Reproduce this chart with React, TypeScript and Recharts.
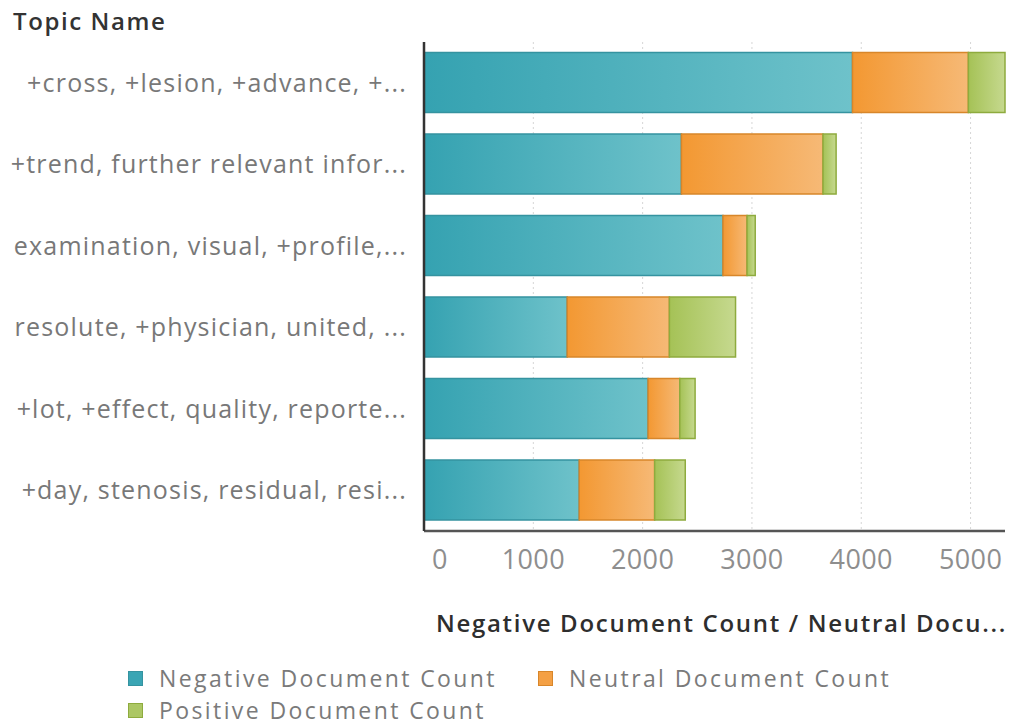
import React from "react";
import { BarChart, Bar, XAxis, YAxis, CartesianGrid, Legend } from "recharts";

const topics = [
  "+cross, +lesion, +advance, +...",
  "+trend, further relevant infor...",
  "examination, visual, +profile,...",
  "resolute, +physician, united, ...",
  "+lot, +effect, quality, reporte...",
  "+day, stenosis, residual, resi...",
];
const negativeCounts = [3920, 2355, 2735, 1310, 2050, 1420];
const neutralCounts = [1060, 1295, 220, 935, 290, 690];
const positiveCounts = [335, 120, 75, 605, 140, 280];
const xTicks = [0, 1000, 2000, 3000, 4000, 5000];

const seriesNames = {
  negative: "Negative Document Count",
  neutral: "Neutral Document Count",
  positive: "Positive Document Count",
};

const data = topics.map((topic, i) => ({
  topic,
  negative: negativeCounts[i],
  neutral: neutralCounts[i],
  positive: positiveCounts[i],
}));

const FONT = "'Open Sans', Lato, sans-serif";

const swatch = {
  negative: { from: "#35a2b1", to: "#6ec2ca", stroke: "#3593a0", key: "#3aa5b4" },
  neutral: { from: "#f39832", to: "#f6b976", stroke: "#d8862a", key: "#f4a044" },
  positive: { from: "#a5c256", to: "#c6d98f", stroke: "#8eab3e", key: "#acc764" },
};

const XTick = (props: any) => {
  const { x, y, payload } = props;
  const shift = payload.value === 0 ? 16 : 0;
  return (
    <text
      x={x + shift}
      y={y + 30}
      textAnchor="middle"
      fill="#8e8e8e"
      fontSize={27}
      letterSpacing={0.4}
      fontFamily={FONT}
    >
      {payload.value}
    </text>
  );
};

const YTick = (props: any) => {
  const { x, y, payload } = props;
  return (
    <text
      x={x - 9}
      y={y + 9}
      textAnchor="end"
      fill="#787878"
      fontSize={25}
      letterSpacing={1.2}
      fontFamily={FONT}
    >
      {payload.value}
    </text>
  );
};

const LegendBox = () => {
  const item = (k: keyof typeof swatch, left: number, top: number) => (
    <div
      key={k}
      style={{ position: "absolute", left, top, height: 26, display: "flex", alignItems: "center" }}
    >
      <div
        style={{
          width: 13,
          height: 13,
          background: swatch[k].key,
          border: `1px solid ${swatch[k].stroke}`,
          marginRight: 16,
        }}
      />
      <span
        style={{
          fontSize: 23,
          lineHeight: "26px",
          letterSpacing: 2.4,
          color: "#7a7a7a",
          fontFamily: FONT,
          whiteSpace: "nowrap",
        }}
      >
        {seriesNames[k]}
      </span>
    </div>
  );
  return (
    <div style={{ position: "relative", width: 1012, height: 0 }}>
      {item("negative", 128, 0)}
      {item("neutral", 538, 0)}
      {item("positive", 128, 32)}
    </div>
  );
};

export default function App() {
  return (
    <div style={{ position: "absolute", left: 0, top: 0, width: 1012, height: 724, background: "#fff" }}>
      <BarChart
        width={1012}
        height={724}
        data={data}
        layout="vertical"
        margin={{ top: 42, right: 7, bottom: 153, left: 0 }}
        barCategoryGap="13%"
      >
        <defs>
          {(Object.keys(swatch) as (keyof typeof swatch)[]).map((k) => (
            <linearGradient key={k} id={`grad-${k}`} x1="0" y1="0" x2="1" y2="0">
              <stop offset="0%" stopColor={swatch[k].from} />
              <stop offset="100%" stopColor={swatch[k].to} />
            </linearGradient>
          ))}
        </defs>
        <CartesianGrid
          horizontal={false}
          stroke="#d6d6d6"
          strokeDasharray="2 3"
          syncWithTicks
        />
        <XAxis
          type="number"
          domain={[0, "dataMax"]}
          ticks={xTicks}
          tick={<XTick />}
          tickLine={false}
          axisLine={{ stroke: "#555", strokeWidth: 2.5 }}
          height={40}
          interval={0}
        />
        <YAxis
          type="category"
          dataKey="topic"
          width={424}
          tick={<YTick />}
          tickLine={false}
          axisLine={{ stroke: "#333", strokeWidth: 2.5 }}
          interval={0}
        />
        <Legend
          verticalAlign="bottom"
          wrapperStyle={{ position: "absolute", left: 0, top: 665, width: 1012, height: 0 }}
          content={() => <LegendBox />}
        />
        <Bar
          dataKey="negative"
          name={seriesNames.negative}
          stackId="s"
          fill="url(#grad-negative)"
          stroke={swatch.negative.stroke}
          strokeWidth={1.5}
          isAnimationActive={false}
        />
        <Bar
          dataKey="neutral"
          name={seriesNames.neutral}
          stackId="s"
          fill="url(#grad-neutral)"
          stroke={swatch.neutral.stroke}
          strokeWidth={1.5}
          isAnimationActive={false}
        />
        <Bar
          dataKey="positive"
          name={seriesNames.positive}
          stackId="s"
          fill="url(#grad-positive)"
          stroke={swatch.positive.stroke}
          strokeWidth={1.5}
          isAnimationActive={false}
        />
      </BarChart>
      <svg
        width={1012}
        height={724}
        style={{ position: "absolute", left: 0, top: 0, pointerEvents: "none" }}
      >
        <text
          x={13}
          y={30}
          fontSize={24}
          fontWeight={600}
          letterSpacing={1.6}
          fill="#333"
          fontFamily={FONT}
        >
          Topic Name
        </text>
        <text
          x={1007}
          y={632}
          textAnchor="end"
          fontSize={24}
          fontWeight={600}
          letterSpacing={1.7}
          fill="#2e2e2e"
          fontFamily={FONT}
        >
          Negative Document Count / Neutral Docu...
        </text>
      </svg>
    </div>
  );
}
